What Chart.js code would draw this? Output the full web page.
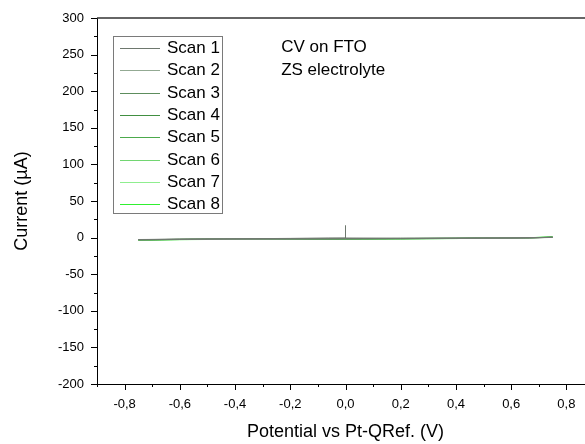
<!DOCTYPE html>
<html>
<head>
<meta charset="utf-8">
<style>
  html, body { margin: 0; padding: 0; background: #fff; overflow: hidden; }
  #wrap { width: 585px; height: 444px; overflow: hidden; }
  canvas { display: block; }
</style>
<script src="https://cdn.jsdelivr.net/npm/chart.js@4/dist/chart.umd.min.js"></script>
</head>
<body>
<div id="wrap"><canvas id="cv" width="600" height="444"></canvas></div>
<script>
// Cyclic voltammetry on FTO, ZS electrolyte: potential (V) vs current (µA)
const scanLabels = ['Scan 1', 'Scan 2', 'Scan 3', 'Scan 4', 'Scan 5', 'Scan 6', 'Scan 7', 'Scan 8'];
const scanColors = ['#6e786e', '#93aa93', '#5d8d5d', '#418f41', '#4caa4c', '#72d672', '#8fee8f', '#30f030'];

// forward sweep -0.75 -> 0.75 V, then back to -0.75 V
const potential = [-0.75, -0.6, -0.4, -0.2, -0.05, 0.0, 0.2, 0.4, 0.6, 0.75, 0.6, 0.4, 0.2, 0.0, -0.2, -0.4, -0.6, -0.75];
// first scan has a short current spike at 0 V
const potentialScan1 = [-0.75, -0.6, -0.4, -0.2, -0.06, -0.001, 0.0, 0.0, 0.2, 0.4, 0.6, 0.75, 0.6, 0.4, 0.2, 0.0, -0.2, -0.4, -0.6, -0.75];

const currentScan1 = [-2.6, -2.2, -1.6, -1.1, -0.5, -0.4, 16.5, -0.6, -0.9, -0.8, -0.5, 0.3, -0.6, -1.0, -1.2, -1.4, -1.6, -1.9, -2.3, -2.7];
const currentScan2 = [-2.8, -2.3, -1.8, -1.4, -1.2, -1.1, -1.0, -0.9, -0.6, 0.2, -0.7, -1.1, -1.3, -1.5, -1.7, -2.0, -2.4, -2.8];
const currentScan3 = [-2.9, -2.4, -1.9, -1.6, -1.4, -1.3, -1.1, -0.9, -0.5, 0.3, -0.7, -1.1, -1.4, -1.6, -1.8, -2.1, -2.5, -2.9];
const currentScan4 = [-3.0, -2.4, -2.0, -1.7, -1.5, -1.4, -1.2, -1.0, -0.5, 0.4, -0.6, -1.2, -1.5, -1.7, -1.9, -2.2, -2.6, -3.0];
const currentScan5 = [-3.0, -2.5, -2.0, -1.8, -1.6, -1.5, -1.3, -1.0, -0.5, 0.4, -0.6, -1.2, -1.5, -1.7, -1.9, -2.2, -2.6, -3.0];
const currentScan6 = [-3.1, -2.5, -2.1, -1.8, -1.6, -1.5, -1.3, -1.0, -0.4, 0.5, -0.6, -1.2, -1.5, -1.8, -2.0, -2.3, -2.7, -3.1];
const currentScan7 = [-3.1, -2.6, -2.1, -1.9, -1.7, -1.6, -1.4, -1.1, -0.4, 0.5, -0.5, -1.3, -1.6, -1.8, -2.0, -2.3, -2.7, -3.1];
const currentScan8 = [-3.2, -2.6, -2.2, -1.9, -1.7, -1.6, -1.4, -1.1, -0.4, 0.6, -0.5, -1.3, -1.6, -1.8, -2.0, -2.4, -2.8, -3.2];

const scanPotentials = [potentialScan1, potential, potential, potential, potential, potential, potential, potential];
const scanCurrents = [currentScan1, currentScan2, currentScan3, currentScan4, currentScan5, currentScan6, currentScan7, currentScan8];

const xTickValues = [-0.8, -0.6, -0.4, -0.2, 0.0, 0.2, 0.4, 0.6, 0.8];
const yTickValues = [-200, -150, -100, -50, 0, 50, 100, 150, 200, 250, 300];
const noteLines = ['CV on FTO', 'ZS electrolyte'];

const FONT = '"Liberation Sans", Arial, sans-serif';

const datasets = scanLabels.map((label, i) => ({
  label,
  data: scanPotentials[i].map((x, k) => ({ x, y: scanCurrents[i][k] })),
  borderColor: scanColors[i],
  backgroundColor: scanColors[i],
  borderWidth: 1,
  pointRadius: 0,
  showLine: true,
  fill: false,
  tension: 0
}));

// major/minor tick marks, top frame line, legend box and note text
const decorations = {
  id: 'decorations',
  afterDraw(chart) {
    const { ctx, chartArea, scales } = chart;
    const xs = scales.x, ys = scales.y;
    ctx.save();
    ctx.strokeStyle = '#000';
    ctx.lineWidth = 1;
    // x ticks every 0.1 V, labelled every 0.2 V
    for (let k = -9; k <= 9; k++) {
      const px = Math.round(xs.getPixelForValue(k / 10)) + 0.5;
      const len = (k % 2 === 0) ? 6 : 3;
      ctx.beginPath();
      ctx.moveTo(px, chartArea.bottom);
      ctx.lineTo(px, chartArea.bottom + len);
      ctx.stroke();
    }
    // y ticks every 25 µA, labelled every 50 µA
    for (let v = -200; v <= 300; v += 25) {
      const py = Math.round(ys.getPixelForValue(v)) + 0.5;
      const len = (v % 50 === 0) ? 6 : 3;
      ctx.beginPath();
      ctx.moveTo(chartArea.left, py);
      ctx.lineTo(chartArea.left - len, py);
      ctx.stroke();
    }
    // top frame
    ctx.strokeStyle = '#333';
    ctx.lineWidth = 1.5;
    ctx.beginPath();
    ctx.moveTo(chartArea.left, chartArea.top);
    ctx.lineTo(chartArea.right + 10, chartArea.top);
    ctx.stroke();

    // legend
    const lx = chartArea.left + 16, ly = chartArea.top + 18;
    const rowH = 22.3;
    ctx.strokeStyle = '#7a7a7a';
    ctx.lineWidth = 1;
    ctx.strokeRect(lx + 0.5, ly + 0.5, 109, 177);
    ctx.font = '17px ' + FONT;
    ctx.textBaseline = 'middle';
    ctx.textAlign = 'left';
    chart.data.datasets.forEach((ds, i) => {
      const cy = Math.round(ly + 12 + i * rowH) + 0.5;
      ctx.strokeStyle = ds.borderColor;
      ctx.lineWidth = 1.2;
      ctx.beginPath();
      ctx.moveTo(lx + 7, cy);
      ctx.lineTo(lx + 47, cy);
      ctx.stroke();
      ctx.fillStyle = '#000';
      ctx.fillText(ds.label, lx + 54, cy);
    });

    // note
    ctx.fillStyle = '#000';
    ctx.font = '17px ' + FONT;
    noteLines.forEach((t, i) => {
      ctx.fillText(t, xs.getPixelForValue(-0.233), chartArea.top + 29 + i * 23);
    });
    ctx.restore();
  }
};

new Chart(document.getElementById('cv'), {
  type: 'scatter',
  data: { datasets },
  options: {
    responsive: false,
    animation: false,
    devicePixelRatio: 1,
    layout: { padding: { top: 18, right: 6, left: 0, bottom: 0 } },
    plugins: { legend: { display: false }, tooltip: { enabled: false } },
    scales: {
      x: {
        type: 'linear',
        min: -0.9,
        max: 0.9,
        afterBuildTicks: s => { s.ticks = xTickValues.map(v => ({ value: v })); },
        afterFit: s => { s.height = 60; },
        grid: { display: true, drawOnChartArea: false, drawTicks: true, tickLength: 6, color: 'rgba(0,0,0,0)' },
        border: { display: true, color: '#000', width: 1 },
        ticks: {
          padding: 7,
          color: '#000',
          font: { family: FONT, size: 13 },
          maxRotation: 0,
          callback: v => Number(v).toFixed(1).replace('.', ',')
        },
        title: {
          display: true,
          text: 'Potential vs Pt-QRef. (V)',
          color: '#000',
          font: { family: FONT, size: 18 },
          padding: { top: 0, bottom: 1 }
        }
      },
      y: {
        type: 'linear',
        min: -200,
        max: 300,
        afterBuildTicks: s => { s.ticks = yTickValues.map(v => ({ value: v })); },
        afterFit: s => { s.width = 97; },
        grid: { display: true, drawOnChartArea: false, drawTicks: true, tickLength: 6, color: 'rgba(0,0,0,0)' },
        border: { display: true, color: '#000', width: 1 },
        ticks: {
          padding: 7,
          color: '#000',
          font: { family: FONT, size: 13 },
          callback: v => String(v)
        },
        title: {
          display: true,
          text: 'Current (µA)',
          color: '#000',
          font: { family: FONT, size: 18 },
          padding: { top: 11, bottom: 0 }
        }
      }
    }
  },
  plugins: [decorations]
});
</script>
</body>
</html>
